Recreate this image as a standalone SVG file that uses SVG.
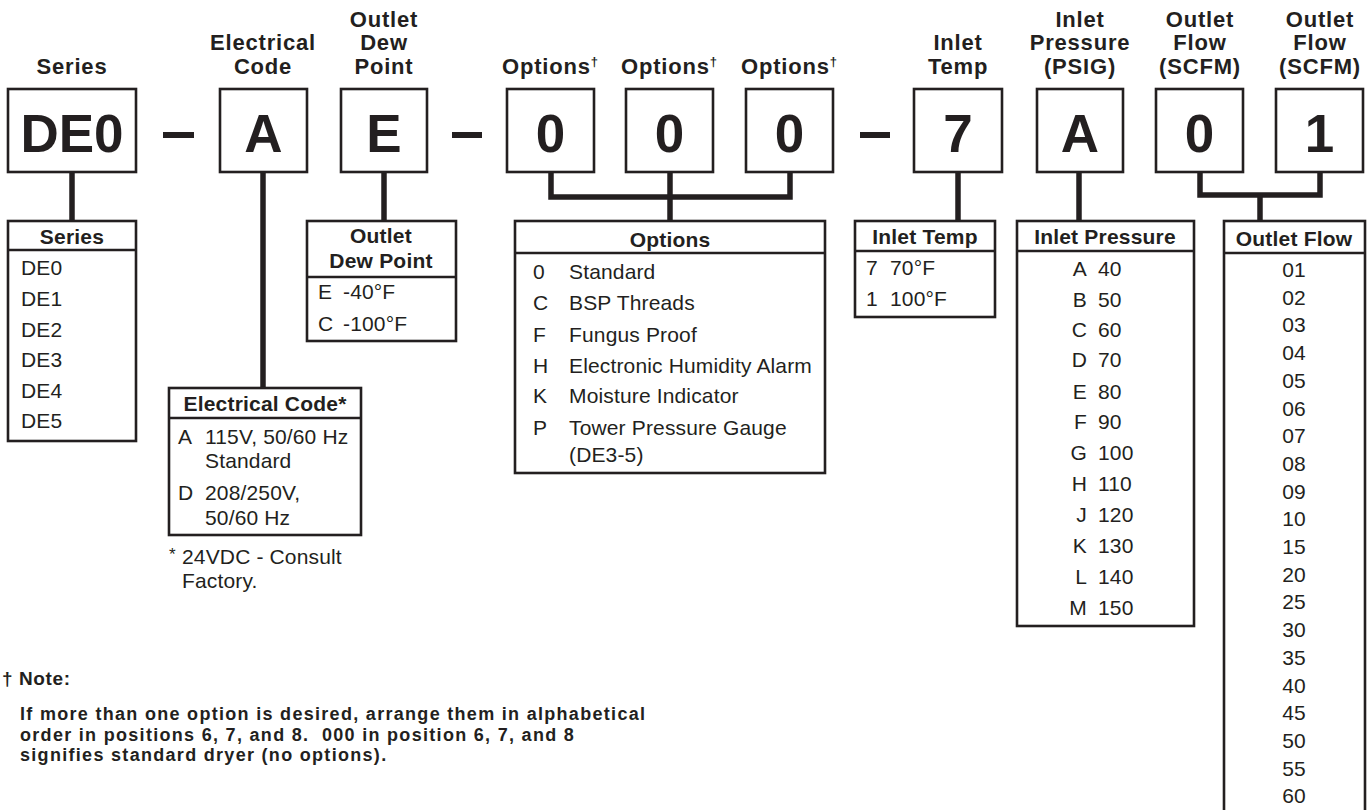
<svg xmlns="http://www.w3.org/2000/svg" width="1370" height="810" viewBox="0 0 1370 810">
<style>
text{font-family:"Liberation Sans",Arial,Helvetica,sans-serif;fill:#231f20}
.hd{font-size:22px;font-weight:bold;text-anchor:middle;letter-spacing:0.8px}
.big{font-size:53px;font-weight:bold;text-anchor:middle}
.th{font-size:21px;font-weight:bold;text-anchor:middle;letter-spacing:0.2px}
.tx{font-size:21px;letter-spacing:0.15px}
.mid{text-anchor:middle}
.end{text-anchor:end}
.nt{font-size:18px;font-weight:bold;letter-spacing:1.3px}
.box{fill:#fff;stroke:#231f20;stroke-width:2.6}
.tbl{fill:#fff;stroke:#231f20;stroke-width:2.6}
.div{stroke:#231f20;stroke-width:2.6}
.con{fill:none;stroke:#231f20;stroke-width:5.5}
.dash{stroke:#231f20;stroke-width:6}
.sup{font-size:13px;letter-spacing:0}
</style>

<g id="connectors">
  <line class="con" x1="72" y1="172" x2="72" y2="222"/>
  <line class="con" x1="263" y1="172" x2="263" y2="389"/>
  <line class="con" x1="384" y1="172" x2="384" y2="222"/>
  <polyline class="con" points="551,172 551,197 790,197 790,172"/>
  <line class="con" x1="670" y1="172" x2="670" y2="222"/>
  <line class="con" x1="958" y1="172" x2="958" y2="222"/>
  <line class="con" x1="1079" y1="172" x2="1079" y2="222"/>
  <polyline class="con" points="1200,172 1200,195 1320,195 1320,172"/>
  <line class="con" x1="1260" y1="195" x2="1260" y2="222"/>
</g>

<g id="dashes">
  <line class="dash" x1="163" y1="135" x2="194" y2="135"/>
  <line class="dash" x1="452" y1="135" x2="482" y2="135"/>
  <line class="dash" x1="860" y1="135" x2="890" y2="135"/>
</g>

<g id="pos-series">
  <text class="hd" x="72" y="74">Series</text>
  <rect class="box" x="8" y="89" width="128" height="83"/>
  <text class="big" x="72" y="152">DE0</text>
</g>
<g id="pos-electrical">
  <text class="hd" x="263" y="50">Electrical</text>
  <text class="hd" x="263" y="74">Code</text>
  <rect class="box" x="220" y="89" width="87" height="83"/>
  <text class="big" x="263.5" y="152">A</text>
</g>
<g id="pos-dewpoint">
  <text class="hd" x="384" y="27">Outlet</text>
  <text class="hd" x="384" y="50">Dew</text>
  <text class="hd" x="384" y="74">Point</text>
  <rect class="box" x="341" y="89" width="86" height="83"/>
  <text class="big" x="384" y="152">E</text>
</g>
<g id="pos-option1">
  <text class="hd" x="550" y="74">Options<tspan class="sup" dy="-8">†</tspan></text>
  <rect class="box" x="507" y="89" width="87" height="83"/>
  <text class="big" x="550.5" y="152">0</text>
</g>
<g id="pos-option2">
  <text class="hd" x="669" y="74">Options<tspan class="sup" dy="-8">†</tspan></text>
  <rect class="box" x="626" y="89" width="87" height="83"/>
  <text class="big" x="669.5" y="152">0</text>
</g>
<g id="pos-option3">
  <text class="hd" x="789" y="74">Options<tspan class="sup" dy="-8">†</tspan></text>
  <rect class="box" x="746" y="89" width="87" height="83"/>
  <text class="big" x="789.5" y="152">0</text>
</g>
<g id="pos-inlettemp">
  <text class="hd" x="958" y="50">Inlet</text>
  <text class="hd" x="958" y="74">Temp</text>
  <rect class="box" x="914" y="89" width="88" height="83"/>
  <text class="big" x="958" y="152">7</text>
</g>
<g id="pos-inletpressure">
  <text class="hd" x="1080" y="27">Inlet</text>
  <text class="hd" x="1080" y="50">Pressure</text>
  <text class="hd" x="1080" y="74">(PSIG)</text>
  <rect class="box" x="1037" y="89" width="86" height="83"/>
  <text class="big" x="1080" y="152">A</text>
</g>
<g id="pos-flow1">
  <text class="hd" x="1200" y="27">Outlet</text>
  <text class="hd" x="1200" y="50">Flow</text>
  <text class="hd" x="1200" y="74">(SCFM)</text>
  <rect class="box" x="1156" y="89" width="87" height="83"/>
  <text class="big" x="1199.5" y="152">0</text>
</g>
<g id="pos-flow2">
  <text class="hd" x="1320" y="27">Outlet</text>
  <text class="hd" x="1320" y="50">Flow</text>
  <text class="hd" x="1320" y="74">(SCFM)</text>
  <rect class="box" x="1276" y="89" width="87" height="83"/>
  <text class="big" x="1319.5" y="152">1</text>
</g>

<g id="tbl-series">
  <rect class="tbl" x="8" y="221" width="128" height="220"/>
  <line class="div" x1="8" y1="250" x2="136" y2="250"/>
  <text class="th" x="72" y="244">Series</text>
  <text class="tx" x="21" y="275">DE0</text>
  <text class="tx" x="21" y="306">DE1</text>
  <text class="tx" x="21" y="337">DE2</text>
  <text class="tx" x="21" y="367">DE3</text>
  <text class="tx" x="21" y="398">DE4</text>
  <text class="tx" x="21" y="428">DE5</text>
</g>

<g id="tbl-electrical">
  <rect class="tbl" x="169" y="388" width="192" height="147"/>
  <line class="div" x1="169" y1="418" x2="361" y2="418"/>
  <text class="th" x="265" y="411">Electrical Code*</text>
  <text class="tx" x="178" y="444">A</text>
  <text class="tx" x="205" y="444">115V, 50/60 Hz</text>
  <text class="tx" x="205" y="468">Standard</text>
  <text class="tx" x="178" y="500">D</text>
  <text class="tx" x="205" y="500">208/250V,</text>
  <text class="tx" x="205" y="525">50/60 Hz</text>
  <text class="tx" x="169" y="560" style="font-size:17px">*</text>
  <text class="tx" x="182" y="564">24VDC - Consult</text>
  <text class="tx" x="182" y="588">Factory.</text>
</g>

<g id="tbl-dewpoint">
  <rect class="tbl" x="307" y="221" width="149" height="120"/>
  <line class="div" x1="307" y1="277" x2="456" y2="277"/>
  <text class="th" x="381" y="243">Outlet</text>
  <text class="th" x="381" y="268">Dew Point</text>
  <text class="tx" x="318" y="299">E</text>
  <text class="tx" x="343" y="299">-40°F</text>
  <text class="tx" x="318" y="331">C</text>
  <text class="tx" x="343" y="331">-100°F</text>
</g>

<g id="tbl-options">
  <rect class="tbl" x="515" y="221" width="310" height="252"/>
  <line class="div" x1="515" y1="253" x2="825" y2="253"/>
  <text class="th" x="670" y="247">Options</text>
  <text class="tx" x="533" y="279">0</text>
  <text class="tx" x="569" y="279">Standard</text>
  <text class="tx" x="533" y="310">C</text>
  <text class="tx" x="569" y="310">BSP Threads</text>
  <text class="tx" x="533" y="342">F</text>
  <text class="tx" x="569" y="342">Fungus Proof</text>
  <text class="tx" x="533" y="373">H</text>
  <text class="tx" x="569" y="373">Electronic Humidity Alarm</text>
  <text class="tx" x="533" y="403">K</text>
  <text class="tx" x="569" y="403">Moisture Indicator</text>
  <text class="tx" x="533" y="435">P</text>
  <text class="tx" x="569" y="435">Tower Pressure Gauge</text>
  <text class="tx" x="569" y="462">(DE3-5)</text>
</g>

<g id="tbl-inlettemp">
  <rect class="tbl" x="855" y="221" width="140" height="96"/>
  <line class="div" x1="855" y1="251" x2="995" y2="251"/>
  <text class="th" x="925" y="244">Inlet Temp</text>
  <text class="tx" x="866" y="275">7</text>
  <text class="tx" x="890" y="275">70°F</text>
  <text class="tx" x="866" y="306">1</text>
  <text class="tx" x="890" y="306">100°F</text>
</g>

<g id="tbl-inletpressure">
  <rect class="tbl" x="1017" y="221" width="177" height="405"/>
  <line class="div" x1="1017" y1="251" x2="1194" y2="251"/>
  <text class="th" x="1105" y="244">Inlet Pressure</text>
  <text class="tx end" x="1087" y="276">A</text><text class="tx" x="1098" y="276">40</text>
  <text class="tx end" x="1087" y="307">B</text><text class="tx" x="1098" y="307">50</text>
  <text class="tx end" x="1087" y="337">C</text><text class="tx" x="1098" y="337">60</text>
  <text class="tx end" x="1087" y="367">D</text><text class="tx" x="1098" y="367">70</text>
  <text class="tx end" x="1087" y="399">E</text><text class="tx" x="1098" y="399">80</text>
  <text class="tx end" x="1087" y="429">F</text><text class="tx" x="1098" y="429">90</text>
  <text class="tx end" x="1087" y="460">G</text><text class="tx" x="1098" y="460">100</text>
  <text class="tx end" x="1087" y="491">H</text><text class="tx" x="1098" y="491">110</text>
  <text class="tx end" x="1087" y="522">J</text><text class="tx" x="1098" y="522">120</text>
  <text class="tx end" x="1087" y="553">K</text><text class="tx" x="1098" y="553">130</text>
  <text class="tx end" x="1087" y="584">L</text><text class="tx" x="1098" y="584">140</text>
  <text class="tx end" x="1087" y="615">M</text><text class="tx" x="1098" y="615">150</text>
</g>

<g id="tbl-outletflow">
  <rect class="tbl" x="1224" y="221" width="141" height="600"/>
  <line class="div" x1="1224" y1="253" x2="1365" y2="253"/>
  <text class="th" x="1294" y="246">Outlet Flow</text>
  <text class="tx mid" x="1294" y="277">01</text>
  <text class="tx mid" x="1294" y="305">02</text>
  <text class="tx mid" x="1294" y="332">03</text>
  <text class="tx mid" x="1294" y="360">04</text>
  <text class="tx mid" x="1294" y="388">05</text>
  <text class="tx mid" x="1294" y="416">06</text>
  <text class="tx mid" x="1294" y="443">07</text>
  <text class="tx mid" x="1294" y="471">08</text>
  <text class="tx mid" x="1294" y="499">09</text>
  <text class="tx mid" x="1294" y="526">10</text>
  <text class="tx mid" x="1294" y="554">15</text>
  <text class="tx mid" x="1294" y="582">20</text>
  <text class="tx mid" x="1294" y="609">25</text>
  <text class="tx mid" x="1294" y="637">30</text>
  <text class="tx mid" x="1294" y="665">35</text>
  <text class="tx mid" x="1294" y="693">40</text>
  <text class="tx mid" x="1294" y="720">45</text>
  <text class="tx mid" x="1294" y="748">50</text>
  <text class="tx mid" x="1294" y="776">55</text>
  <text class="tx mid" x="1294" y="803">60</text>
</g>

<g id="note">
  <text class="nt" x="2" y="685" style="font-size:19px;letter-spacing:0.6px">† Note:</text>
  <text class="nt" x="20" y="720">If more than one option is desired, arrange them in alphabetical</text>
  <text class="nt" x="20" y="740.5">order in positions 6, 7, and 8.&#160; 000 in position 6, 7, and 8</text>
  <text class="nt" x="20" y="761">signifies standard dryer (no options).</text>
</g>
</svg>
